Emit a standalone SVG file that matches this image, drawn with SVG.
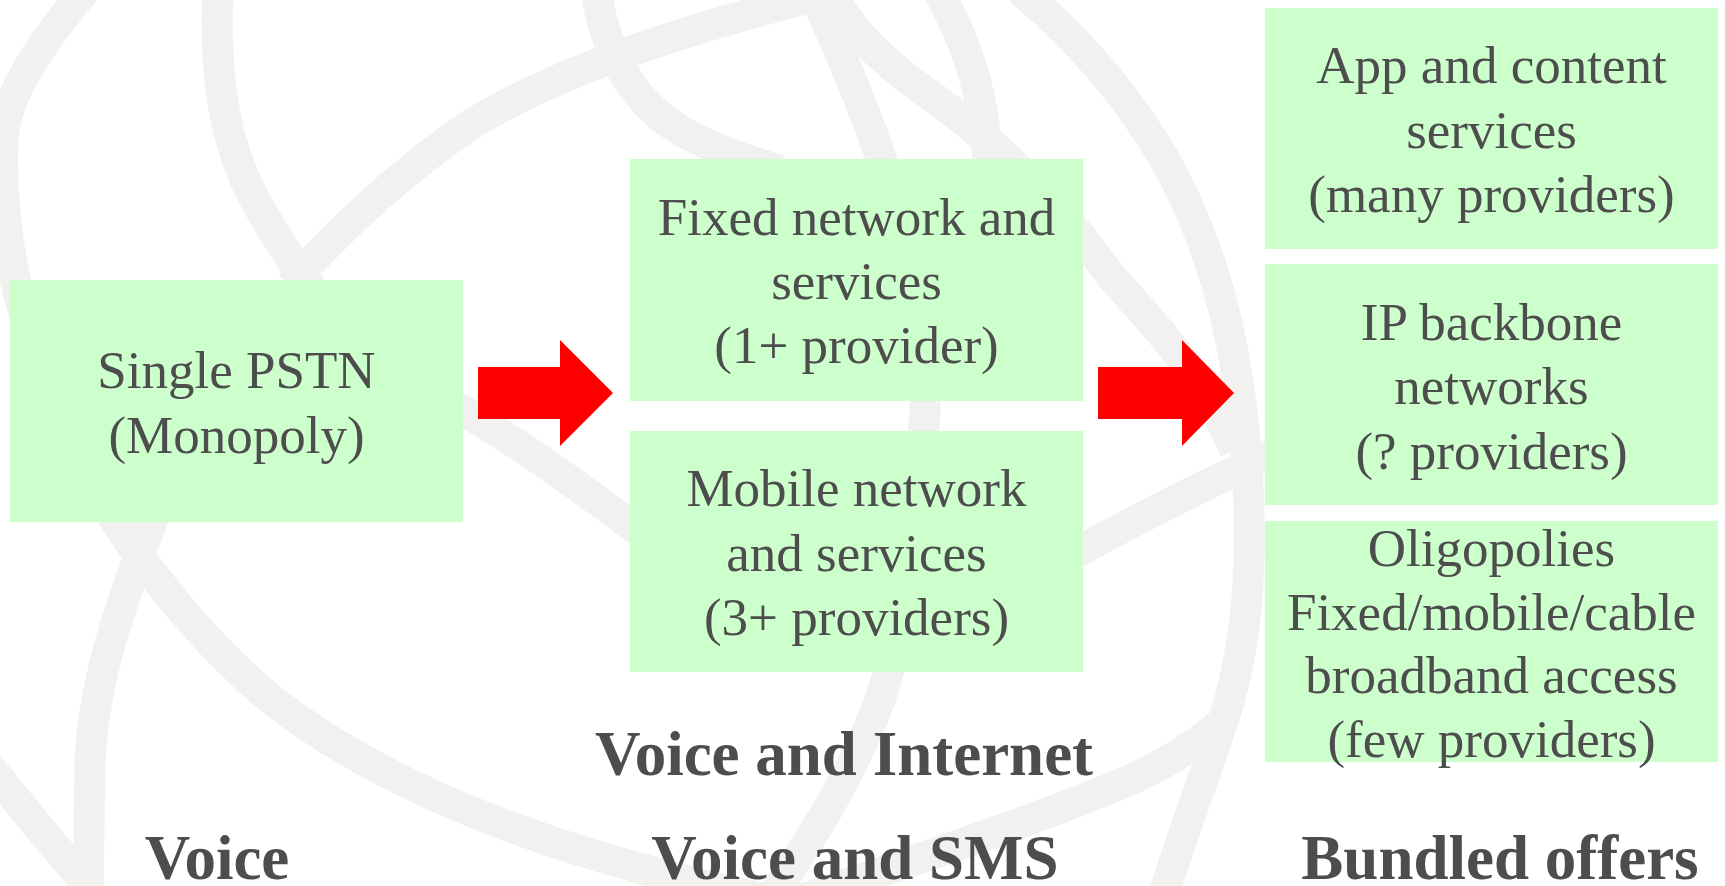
<svg xmlns="http://www.w3.org/2000/svg" width="1725" height="886" viewBox="0 0 1725 886">
  <style>
    .globe { fill: none; stroke: #f2f1f0; stroke-width: 31; }
    .box { fill: #ccffcc; }
    .t { font-family: "Liberation Serif", "Times New Roman", serif; font-size: 53px; fill: #4d4d4d; text-anchor: middle; }
    .h { font-family: "Liberation Serif", "Times New Roman", serif; font-size: 63px; font-weight: bold; fill: #4d4d4d; text-anchor: middle; }
    .arrow { fill: #ff0000; }
  </style>
  <rect width="1725" height="886" fill="#ffffff"/>
  <g id="globe">
    <path class="globe" d="M 85,-10 C 40,45 5,95 3,140 C 0,220 12,300 60,420 C 100,510 170,610 260,690 C 380,790 560,855 770,900"/>
    <path class="globe" d="M 160,500 C 135,570 95,660 90,760 L 88,900"/>
    <path class="globe" d="M -20,755 Q 40,830 92,890"/>
    <path class="globe" d="M 218,-10 C 215,60 220,130 250,190 C 270,230 295,265 320,300"/>
    <path class="globe" d="M 290,285 C 330,240 390,180 470,125 C 560,70 680,30 840,-10"/>
    <path class="globe" d="M 596,-10 C 605,50 630,100 680,130 C 715,150 745,160 780,170"/>
    <path class="globe" d="M 430,392 Q 520,440 650,540"/>
    <path class="globe" d="M 812,-10 C 840,50 870,120 895,200 C 925,300 930,380 922,450 C 910,560 900,640 880,700 C 850,780 810,840 770,900"/>
    <path class="globe" d="M 830,-10 C 850,30 880,60 930,95 C 1000,145 1060,205 1110,275 C 1150,320 1200,370 1235,450"/>
    <path class="globe" d="M 938,-10 C 965,40 985,90 988,170"/>
    <path class="globe" d="M 1020,-10 C 1080,40 1130,100 1165,160 C 1210,240 1235,330 1245,440 C 1255,560 1248,650 1220,730 C 1200,790 1180,840 1162,900"/>
    <path class="globe" d="M 1050,568 Q 1140,515 1280,450"/>
    <path class="globe" d="M 800,900 C 900,865 1050,815 1130,780 C 1170,762 1195,745 1218,726"/>
  </g>
  <g id="connectors">
    <polygon class="arrow" points="478,367 560,367 560,340 613,393 560,446 560,419 478,419"/>
    <polygon class="arrow" points="1098,367 1182,367 1182,340 1234,393 1182,446 1182,419 1098,419"/>
  </g>
  <g id="node-pstn">
    <rect class="box" x="10" y="280" width="453" height="242"/>
    <text class="t"><tspan x="236.5" y="388">Single PSTN</tspan><tspan x="236.5" y="453">(Monopoly)</tspan></text>
  </g>
  <g id="node-fixed">
    <rect class="box" x="630" y="159" width="453" height="242"/>
    <text class="t"><tspan x="856.5" y="235">Fixed network and</tspan><tspan x="856.5" y="299">services</tspan><tspan x="856.5" y="363">(1+ provider)</tspan></text>
  </g>
  <g id="node-mobile">
    <rect class="box" x="630" y="431" width="453" height="241"/>
    <text class="t"><tspan x="856.5" y="506">Mobile network</tspan><tspan x="856.5" y="571">and services</tspan><tspan x="856.5" y="635">(3+ providers)</tspan></text>
  </g>
  <g id="node-app">
    <rect class="box" x="1265" y="8" width="453" height="241"/>
    <text class="t"><tspan x="1491.5" y="83">App and content</tspan><tspan x="1491.5" y="148">services</tspan><tspan x="1491.5" y="212">(many providers)</tspan></text>
  </g>
  <g id="node-ip">
    <rect class="box" x="1265" y="264" width="453" height="241"/>
    <text class="t"><tspan x="1491.5" y="340">IP backbone</tspan><tspan x="1491.5" y="404">networks</tspan><tspan x="1491.5" y="469">(? providers)</tspan></text>
  </g>
  <g id="node-access">
    <rect class="box" x="1265" y="521" width="453" height="241"/>
    <text class="t"><tspan x="1491.5" y="566">Oligopolies</tspan><tspan x="1491.5" y="630">Fixed/mobile/cable</tspan><tspan x="1491.5" y="693">broadband access</tspan><tspan x="1491.5" y="757">(few providers)</tspan></text>
  </g>
  <g id="labels">
    <text class="h" x="844" y="775">Voice and Internet</text>
    <text class="h" x="217" y="879">Voice</text>
    <text class="h" x="855" y="879">Voice and SMS</text>
    <text class="h" x="1500" y="879">Bundled offers</text>
  </g>
</svg>
